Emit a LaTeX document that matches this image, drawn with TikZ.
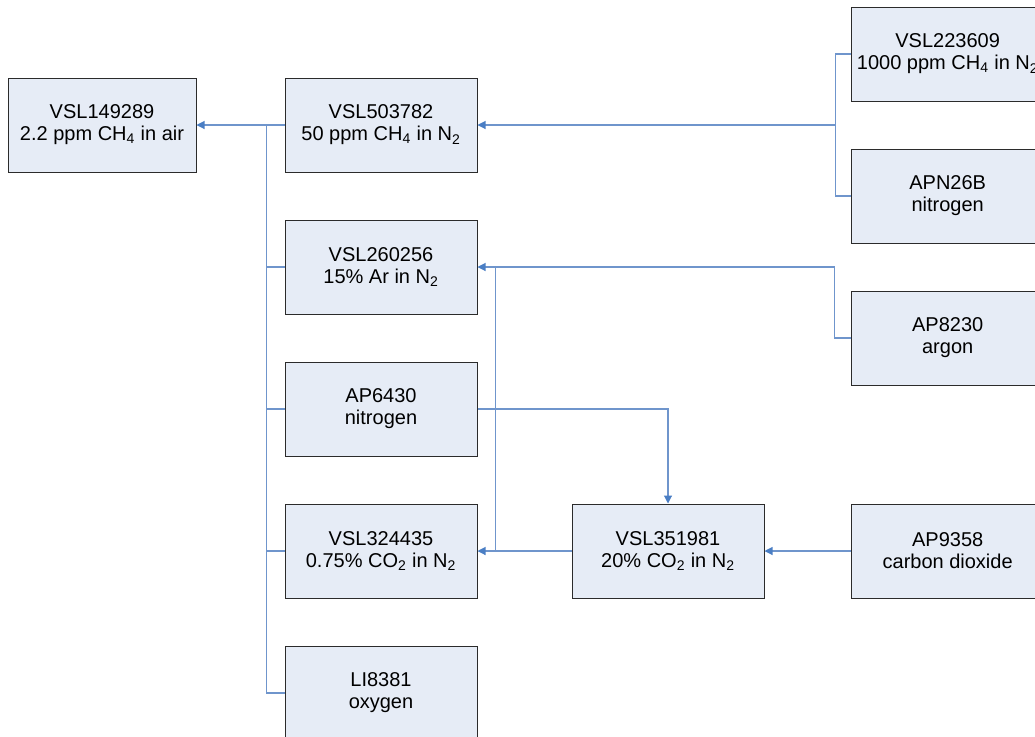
\documentclass[tikz,border=0pt]{standalone}
\usepackage{fontspec}
\setmainfont{Liberation Sans}
\usetikzlibrary{positioning, arrows.meta, calc}
\definecolor{boxfill}{HTML}{E6ECF6}
\definecolor{boxline}{HTML}{2B2B2B}
\definecolor{flow}{HTML}{6F95CC}
\definecolor{flowhead}{HTML}{4A7EC4}

\begin{document}
\begin{tikzpicture}[
    x=0.75pt, y=-0.75pt,
    node distance=35.25pt and 66pt,
    box/.style={rectangle, draw=boxline, fill=boxfill, line width=0.75pt,
                minimum width=144pt, minimum height=70.5pt, inner sep=0pt,
                align=center, font=\fontsize{15pt}{16.5pt}\selectfont},
    link/.style={draw=flow, line width=0.8pt},
    arr/.style={link, -{Triangle[length=6pt, width=6pt, color=flowhead]}}
]
\useasboundingbox (0,0) rectangle (1035,736);
\clip (0,0) rectangle (1035,736);

\node[box] (v503782) at (381,125) {VSL503782\\50 ppm CH\textsubscript{4} in N\textsubscript{2}};
\node[box, minimum width=141pt, left=66pt of v503782] (v149289) {VSL149289\\2.2 ppm CH\textsubscript{4} in air};
\node[box, below=of v503782] (v260256) {VSL260256\\15\% Ar in N\textsubscript{2}};
\node[box, below=of v260256] (ap6430) {AP6430\\nitrogen};
\node[box, below=of ap6430] (v324435) {VSL324435\\0.75\% CO\textsubscript{2} in N\textsubscript{2}};
\node[box, below=of v324435] (li8381) {LI8381\\oxygen};

\node[box, right=70.5pt of v324435] (v351981) {VSL351981\\20\% CO\textsubscript{2} in N\textsubscript{2}};
\node[box, right=65pt of v351981] (ap9358) {AP9358\\carbon dioxide};
\node[box, above=88.5pt of ap9358] (ap8230) {AP8230\\argon};
\node[box, above=of ap8230] (apn26b) {APN26B\\nitrogen};
\node[box, above=of apn26b] (v223609) {VSL223609\\1000 ppm CH\textsubscript{4} in N\textsubscript{2}};

% junction points
\coordinate (jL) at ($(v149289.east)!0.8!(v503782.west)$);
\coordinate (jR) at ($(apn26b.west |- v503782.east)+(-12pt,0)$);
\coordinate (jM) at ($(v324435.east)+(13.5pt,0)$);

\draw[arr] (v503782.west) -- (v149289.east);
\foreach \src in {v260256, ap6430, v324435, li8381}
    \draw[link] (\src.west) -| (jL);

\draw[arr] (v223609.west) -| (jR) -- (v503782.east);
\draw[link] (apn26b.west) -| (jR);

\draw[arr] (ap8230.west) -- ++(-12.75pt,0) |- (v260256.east);
\draw[arr] (v351981.west) -- (v324435.east);
\draw[link] (jM) -- (jM |- v260256.east);
\draw[arr] (ap6430.east) -| (v351981.north);
\draw[arr] (ap9358.west) -- (v351981.east);
\end{tikzpicture}
\end{document}
